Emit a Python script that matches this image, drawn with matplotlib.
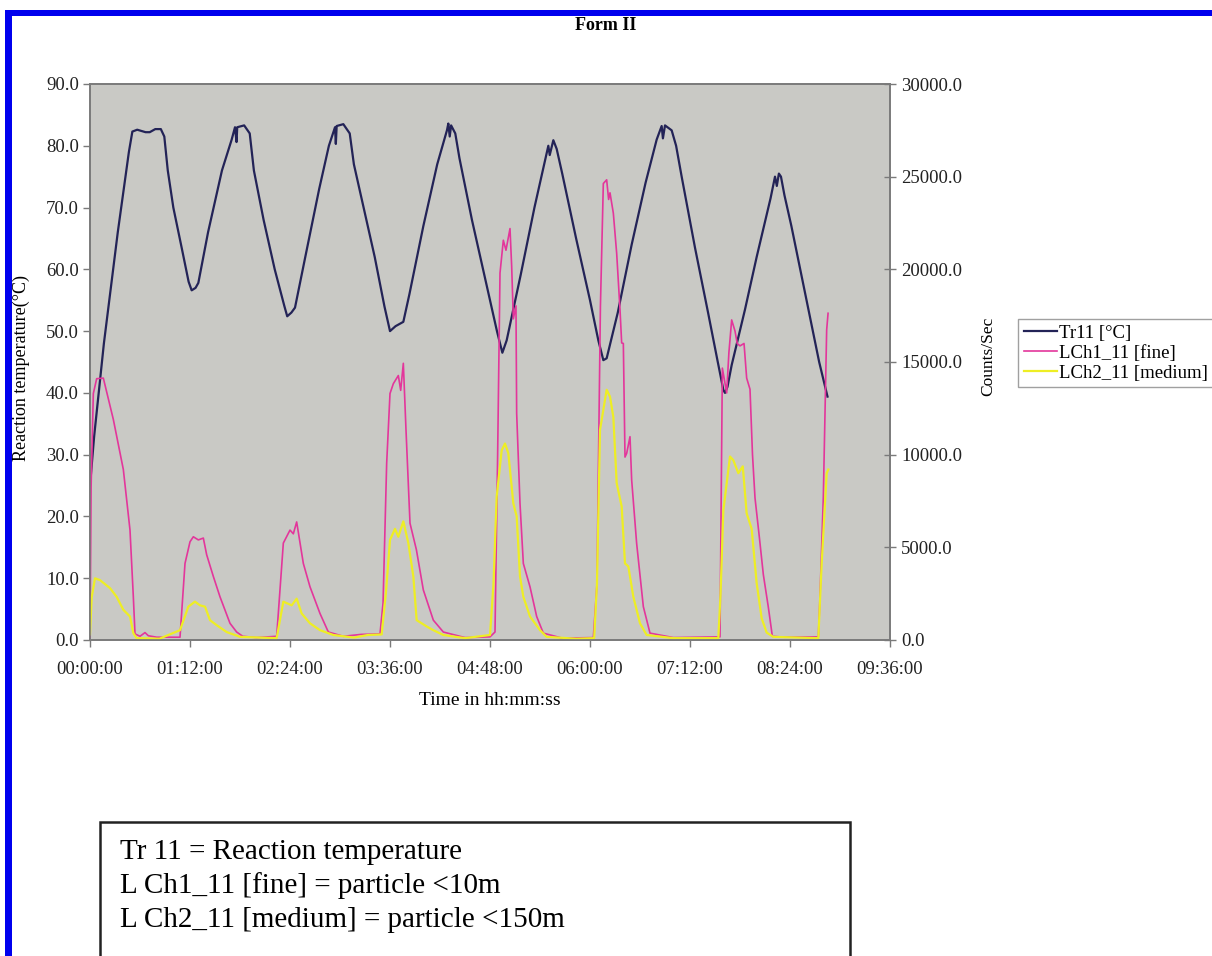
import matplotlib.pyplot as plt
from matplotlib.patches import Rectangle
from matplotlib.ticker import FormatStrFormatter

plt.rcParams['font.family'] = ['Liberation Serif', 'DejaVu Serif']

# time in minutes from start, temperature in degC
tr11_t = [0, 3, 10, 20, 28, 30.5, 34, 40, 43, 47, 51, 53.5, 56, 60, 66, 71, 73.2, 76, 78,
          85, 95, 102, 104.4, 105.5, 106, 111, 115, 118, 125, 133, 140, 142, 145, 147.6,
          155, 165, 172, 176.4, 177, 177.6, 182.4, 187, 190, 196, 205, 212, 216, 220, 225.6,
          230, 240, 250, 257, 258, 259, 260, 263, 266, 275, 285, 293, 296.9, 300,
          310, 320, 328, 330, 331, 333.6, 336, 340, 350, 360, 366, 369.6, 372,
          380, 390, 400, 408, 411.6, 412.5, 414, 418.8, 422, 426, 435.6, 445, 452, 456, 457.2, 459,
          462, 471.6, 480, 490, 493.2, 494.5, 496, 497.5, 500, 505, 515, 525, 531]
tr11_v = [25, 33, 48, 66, 79, 82.3, 82.6, 82.2, 82.2, 82.7, 82.7, 81.5, 76, 70, 63.5, 58, 56.6, 57, 57.8,
          66, 76, 81, 83, 80.6, 83, 83.3, 82, 76, 68, 60, 54, 52.4, 53, 53.8,
          62, 73, 80, 83, 80.3, 83.2, 83.5, 82, 77, 71, 62, 54, 50, 50.8, 51.5,
          56, 67, 77, 82.5, 83.6, 81.5, 83.3, 82, 78, 68, 58, 50, 46.5, 48.5,
          59, 70, 78, 80, 78.5, 80.9, 79.5, 75.5, 65, 55, 48.5, 45.3, 45.6,
          53, 64, 74, 81, 83.2, 81.2, 83.3, 82.5, 80, 75, 63.5, 53, 45, 40.5, 40, 41,
          44.5, 53.5, 62, 71.5, 75, 73.5, 75.5, 75, 72, 67, 56, 45, 39.4]

# counts/sec, fine particles
lch1_t = [0, 0.8, 2.4, 4.8, 9.6, 16.8, 24, 28.8, 31.2, 32.4, 36, 39.6, 42, 48, 64.8,
          68.4, 72, 74.4, 78, 81.6, 84, 88.8, 93.6, 100.8, 105.6, 110, 120, 134.4,
          139.2, 144, 146.4, 148.8, 153.6, 158.4, 165.6, 171.6, 182.4, 195, 208.8,
          211, 213.6, 216, 218.4, 222, 223.7, 225.6, 227.5, 230.4, 235, 240, 247.2, 254.4, 270, 288,
          291.6, 293.5, 295.2, 297.6, 299.5, 302.4, 303.6, 304.8, 306.7, 307.2, 309.6, 312, 316.8,
          321.6, 326.4, 340, 362.4,
          365, 367.5, 369.6, 372, 373.4, 374.4, 376.8, 379.2, 381.6, 382.8, 384, 385.2, 386.4,
          388.8, 390, 393.6, 398.4, 403.2, 420, 453.6,
          454.5, 455.3, 458.4, 460, 462, 464.4, 466, 468, 470.9, 472.8, 475.2, 477, 478.8, 482,
          484.8, 488.4, 491.3, 500, 524.4, 525.6, 528, 530.4, 531.4]
lch1_v = [150, 8300, 13300, 14100, 14130, 11900, 9200, 5930, 2330, 330, 200, 400, 230, 150, 150,
          4130, 5300, 5570, 5400, 5500, 4600, 3430, 2330, 900, 430, 200, 130, 200,
          5230, 5930, 5730, 6370, 4130, 2870, 1430, 430, 200, 300, 330,
          2000, 9530, 13300, 13830, 14270, 13470, 14930, 11370, 6300, 4870, 2700, 1070, 430, 130, 170,
          430, 10000, 19800, 21570, 21030, 22200, 20170, 17330, 18030, 12230, 7370, 4130, 2870,
          1270, 370, 100, 130,
          3000, 18000, 24630, 24830, 23770, 24130, 23030, 20870, 17830, 16030, 16000, 9870, 10070,
          10970, 8630, 5200, 1800, 370, 130, 170,
          8000, 14670, 13330, 15500, 17270, 16670, 16000, 15870, 16000, 14130, 13530, 10000, 7670, 5500,
          3530, 1770, 200, 150, 170, 2330, 7730, 16730, 17630]

# counts/sec, medium particles
lch2_t = [0, 1.2, 3.6, 7.2, 14.4, 19.2, 24, 28.8, 31.2, 33.6, 50, 64.8,
          70.8, 75.6, 79.2, 82.8, 86.4, 91.2, 98.4, 108, 134.4,
          139.2, 145.2, 148.8, 152.4, 158.4, 165.6, 175.2, 190, 200, 210,
          213, 216, 219.6, 222, 225.6, 229.2, 232.8, 235.2, 242.4, 247.2, 254.4, 270, 288,
          290.5, 292.8, 296.4, 298.8, 301.2, 304.8, 307.2, 309.6, 312, 316.8, 324, 328.8, 350, 363,
          365, 367.2, 372, 374.4, 376.8, 379.2, 382.8, 385.2, 387.6, 391.2, 396, 400.8, 420, 452.4,
          454, 456, 460.8, 463.2, 466.8, 470, 472.8, 476.4, 480, 483.6, 487.2, 492, 524.4,
          526.8, 530.4, 531.6]
lch2_v = [300, 2300, 3330, 3230, 2800, 2330, 1630, 1270, 370, 100, 70, 530,
          1800, 2070, 1870, 1800, 1070, 800, 430, 170, 100,
          2070, 1870, 2230, 1430, 900, 530, 270, 130, 270, 300,
          2500, 5400, 6000, 5570, 6400, 5230, 3430, 1070, 730, 530, 270, 100, 270,
          3000, 7730, 10230, 10600, 10070, 7370, 6670, 3430, 2330, 1270, 530, 170, 70, 100,
          3000, 11330, 13500, 13130, 12030, 8470, 7200, 4130, 3970, 2330, 900, 270, 100, 100,
          2500, 7000, 9900, 9700, 9000, 9370, 6830, 6000, 3070, 1170, 400, 170, 100,
          4130, 9000, 9200]

x_ticks = [0, 72, 144, 216, 288, 360, 432, 504, 576]
x_labels = ['00:00:00', '01:12:00', '02:24:00', '03:36:00', '04:48:00',
            '06:00:00', '07:12:00', '08:24:00', '09:36:00']

W, H = 1212, 956
fig = plt.figure(figsize=(W / 100, H / 100), dpi=100)
ax = fig.add_axes([90 / W, 1 - 640 / H, 800 / W, 556 / H])
ax.set_facecolor('#c9c9c5')
ax2 = ax.twinx()

l1, = ax.plot(tr11_t, tr11_v, color='#232357', lw=1.6, label='Tr11 [°C]')
l2, = ax2.plot(lch1_t, lch1_v, color='#e3369b', lw=1.2, label='LCh1_11 [fine]')
l3, = ax2.plot(lch2_t, lch2_v, color='#eeee24', lw=1.6, label='LCh2_11 [medium]')

ax.set_xlim(0, 576)
ax.set_ylim(0, 90)
ax2.set_ylim(0, 30000)
ax.set_yticks(range(0, 91, 10))
ax2.set_yticks(range(0, 30001, 5000))
ax.yaxis.set_major_formatter(FormatStrFormatter('%.1f'))
ax2.yaxis.set_major_formatter(FormatStrFormatter('%.1f'))
ax.set_xticks(x_ticks)
ax.set_xticklabels(x_labels)

for a in (ax, ax2):
    for s in a.spines.values():
        s.set_color('#7a7a7a')
        s.set_linewidth(1.2)
ax.tick_params(axis='both', labelsize=13.5, colors='#7a7a7a', labelcolor='#222222', length=5, width=1)
ax.tick_params(axis='x', pad=10)
ax.tick_params(axis='y', pad=3)
ax2.tick_params(axis='y', labelsize=13.5, colors='#7a7a7a', labelcolor='#222222', direction='inout',
                length=8, width=1, pad=4)

ax.set_ylabel('Reaction temperature(°C)', fontsize=13)
ax.yaxis.set_label_coords(-0.075, 0.49)
ax2.set_ylabel('Counts/Sec', fontsize=12.5)
ax2.yaxis.set_label_coords(1.1125, 0.511)
ax.set_xlabel('Time in hh:mm:ss', fontsize=14)
ax.xaxis.set_label_coords(0.5, -0.094)

fig.text(0.5, 1 - 25 / H, 'Form II', ha='center', va='center', fontsize=13, fontweight='bold')

leg = fig.legend([l1, l2, l3], [l.get_label() for l in (l1, l2, l3)],
                 loc='upper left', bbox_to_anchor=(1018 / W, 1 - 319 / H),
                 bbox_transform=fig.transFigure, fontsize=13.5, frameon=True, fancybox=False,
                 handlelength=1.8, handletextpad=0.1, labelspacing=0.15, borderpad=0.3,
                 borderaxespad=0)
leg.get_frame().set_edgecolor('#888888')
leg.get_frame().set_linewidth(1)

# blue page border (left and top edges)
fig.add_artist(Rectangle((5 / W, 0), 7 / W, 1 - 10 / H, transform=fig.transFigure,
                         color='#0000ee', lw=0))
fig.add_artist(Rectangle((5 / W, 1 - 16 / H), 1, 6 / H, transform=fig.transFigure,
                         color='#0000ee', lw=0))

# note box
fig.add_artist(Rectangle((100 / W, -0.05), 750 / W, 0.05 + (H - 822) / H, transform=fig.transFigure,
                         fill=False, ec='#222222', lw=1.8))
notes = ['Tr 11 = Reaction temperature',
         'L Ch1_11 [fine] = particle <10m',
         'L Ch2_11 [medium] = particle <150m']
for i, s in enumerate(notes):
    fig.text(120 / W, 1 - (852 + 34 * i) / H, s, fontsize=21, ha='left', va='center')

fig.savefig('out.png', dpi=100)
